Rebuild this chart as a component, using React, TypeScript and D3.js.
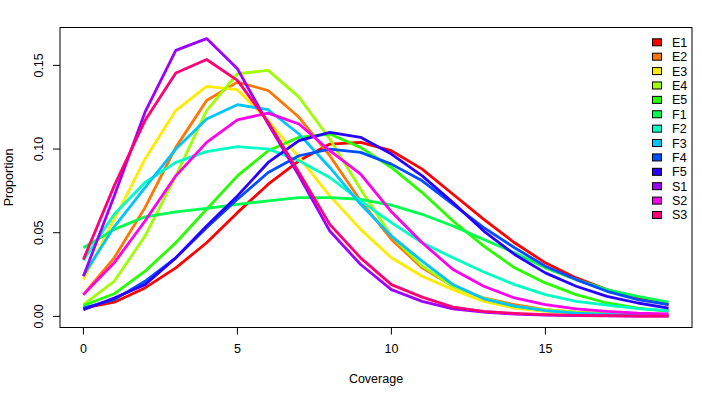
import * as d3 from 'd3';
import React, { useEffect, useRef } from 'react';

// coverage values on the x axis
const coverage = [0, 1, 2, 3, 4, 5, 6, 7, 8, 9, 10, 11, 12, 13, 14, 15, 16, 17, 18, 19];

const e1 = [0.005, 0.0085, 0.017, 0.029, 0.044, 0.062, 0.079, 0.093, 0.103, 0.104, 0.099, 0.088, 0.073, 0.058, 0.044, 0.032, 0.023, 0.016, 0.011, 0.007];
const e2 = [0.013, 0.035, 0.065, 0.101, 0.129, 0.14, 0.135, 0.119, 0.096, 0.069, 0.046, 0.029, 0.018, 0.011, 0.007, 0.004, 0.0025, 0.0015, 0.001, 0.0006];
const e3 = [0.022, 0.058, 0.094, 0.123, 0.1375, 0.1355, 0.117, 0.095, 0.072, 0.052, 0.035, 0.024, 0.016, 0.009, 0.005, 0.003, 0.0018, 0.001, 0.0006, 0.0004];
const e4 = [0.007, 0.021, 0.048, 0.084, 0.123, 0.145, 0.147, 0.131, 0.106, 0.076, 0.048, 0.03, 0.018, 0.011, 0.006, 0.004, 0.0025, 0.0015, 0.001, 0.0006];
const e5 = [0.0065, 0.0135, 0.027, 0.044, 0.064, 0.084, 0.099, 0.107, 0.109, 0.101, 0.089, 0.074, 0.057, 0.042, 0.029, 0.02, 0.013, 0.008, 0.005, 0.003];
const f1 = [0.041, 0.052, 0.0595, 0.0625, 0.0645, 0.067, 0.069, 0.071, 0.071, 0.07, 0.0665, 0.061, 0.054, 0.046, 0.038, 0.029, 0.022, 0.016, 0.012, 0.0085];
const f2 = [0.0335, 0.061, 0.08, 0.092, 0.0985, 0.1015, 0.1, 0.093, 0.083, 0.069, 0.056, 0.044, 0.035, 0.0265, 0.019, 0.013, 0.009, 0.0067, 0.0047, 0.0035];
const f3 = [0.0245, 0.0535, 0.077, 0.1, 0.118, 0.1265, 0.1235, 0.109, 0.089, 0.067, 0.048, 0.033, 0.019, 0.0105, 0.0062, 0.0035, 0.002, 0.0012, 0.0008, 0.0005];
const f4 = [0.005, 0.01, 0.021, 0.035, 0.053, 0.07, 0.086, 0.096, 0.1, 0.098, 0.091, 0.081, 0.067, 0.053, 0.041, 0.03, 0.022, 0.015, 0.01, 0.007];
const f5 = [0.004, 0.011, 0.019, 0.035, 0.054, 0.072, 0.092, 0.105, 0.11, 0.107, 0.097, 0.084, 0.068, 0.051, 0.037, 0.026, 0.018, 0.012, 0.008, 0.005];
const s1 = [0.024, 0.072, 0.122, 0.159, 0.166, 0.148, 0.115, 0.084, 0.051, 0.031, 0.016, 0.009, 0.0045, 0.0025, 0.0014, 0.0008, 0.0005, 0.0003, 0.0002, 0.0001];
const s2 = [0.013, 0.032, 0.057, 0.084, 0.104, 0.1175, 0.1215, 0.115, 0.099, 0.085, 0.0625, 0.044, 0.028, 0.018, 0.011, 0.007, 0.0045, 0.003, 0.002, 0.0015];
const s3 = [0.034, 0.078, 0.117, 0.1455, 0.1535, 0.141, 0.116, 0.086, 0.055, 0.035, 0.019, 0.0115, 0.0055, 0.003, 0.0018, 0.001, 0.0006, 0.0004, 0.0002, 0.0001];

const seriesNames = ['E1', 'E2', 'E3', 'E4', 'E5', 'F1', 'F2', 'F3', 'F4', 'F5', 'S1', 'S2', 'S3'];
const seriesValues = [e1, e2, e3, e4, e5, f1, f2, f3, f4, f5, s1, s2, s3];
// rainbow(13)
const seriesColors = ['#FF0000', '#FF7600', '#FFEB00', '#9DFF00', '#27FF00', '#00FF4E', '#00FFC4', '#00C4FF', '#004EFF', '#2700FF', '#9D00FF', '#FF00EB', '#FF0076'];

const xTicks = [0, 5, 10, 15];
const yTicks = [0, 0.05, 0.1, 0.15];

const WIDTH = 702;
const HEIGHT = 393;
const FONT = '"Liberation Sans", Arial, sans-serif';

export default function App() {
  const svgRef = useRef<SVGSVGElement | null>(null);

  useEffect(() => {
    const svg = d3.select(svgRef.current);
    svg.selectAll('*').remove();

    // plot region like R base graphics
    const left = 60, right = 692, top = 27.5, bottom = 327.5;

    // R pads the data range by 4% on each side
    const xMin = d3.min(coverage)!, xMax = d3.max(coverage)!;
    const yMax = d3.max(seriesValues.flat())!;
    const yMin = 0;
    const xPad = (xMax - xMin) * 0.04;
    const yPad = (yMax - yMin) * 0.04;

    const x = d3.scaleLinear().domain([xMin - xPad, xMax + xPad]).range([left, right]);
    const y = d3.scaleLinear().domain([yMin - yPad, yMax + yPad]).range([bottom, top]);

    const line = d3
      .line<number>()
      .x((_, i) => x(coverage[i]))
      .y((d) => y(d));

    // lines
    seriesValues.forEach((vals, i) => {
      svg
        .append('path')
        .attr('d', line(vals)!)
        .attr('fill', 'none')
        .attr('stroke', seriesColors[i])
        .attr('stroke-width', 2.8)
        .attr('stroke-linejoin', 'round');
    });

    // box
    svg
      .append('rect')
      .attr('x', left)
      .attr('y', top)
      .attr('width', right - left)
      .attr('height', bottom - top)
      .attr('fill', 'none')
      .attr('stroke', 'black')
      .attr('stroke-width', 1);

    // x axis
    const xAxis = svg.append('g');
    xTicks.forEach((t) => {
      xAxis
        .append('line')
        .attr('x1', x(t))
        .attr('x2', x(t))
        .attr('y1', bottom)
        .attr('y2', bottom + 7)
        .attr('stroke', 'black');
      xAxis
        .append('text')
        .attr('x', x(t))
        .attr('y', bottom + 25)
        .attr('text-anchor', 'middle')
        .style('font-family', FONT)
        .style('font-size', '12.5px')
        .text(String(t));
    });

    // y axis (labels parallel to the axis)
    const yAxis = svg.append('g');
    yTicks.forEach((t) => {
      yAxis
        .append('line')
        .attr('x1', left)
        .attr('x2', left - 7)
        .attr('y1', y(t))
        .attr('y2', y(t))
        .attr('stroke', 'black');
      yAxis
        .append('text')
        .attr('transform', `translate(${left - 17},${y(t)}) rotate(-90)`)
        .attr('text-anchor', 'middle')
        .style('font-family', FONT)
        .style('font-size', '12.5px')
        .text(t.toFixed(2));
    });

    // axis titles
    svg
      .append('text')
      .attr('x', (left + right) / 2)
      .attr('y', 383)
      .attr('text-anchor', 'middle')
      .style('font-family', FONT)
      .style('font-size', '12.5px')
      .text('Coverage');
    svg
      .append('text')
      .attr('transform', `translate(13,${(top + bottom) / 2}) rotate(-90)`)
      .attr('text-anchor', 'middle')
      .style('font-family', FONT)
      .style('font-size', '12.5px')
      .text('Proportion');

    // legend
    const legend = svg.append('g');
    seriesNames.forEach((name, i) => {
      const cy = 42.3 + i * 14.39;
      legend
        .append('rect')
        .attr('x', 652.5)
        .attr('y', cy - 3.5)
        .attr('width', 9)
        .attr('height', 7)
        .attr('fill', seriesColors[i])
        .attr('stroke', 'black')
        .attr('stroke-width', 1);
      legend
        .append('text')
        .attr('x', 672)
        .attr('y', cy + 4.5)
        .style('font-family', FONT)
        .style('font-size', '12.5px')
        .text(name);
    });
  }, []);

  return (
    <svg
      ref={svgRef}
      width={WIDTH}
      height={HEIGHT}
      style={{ position: 'absolute', left: 0, top: 0, background: 'white' }}
    />
  );
}
